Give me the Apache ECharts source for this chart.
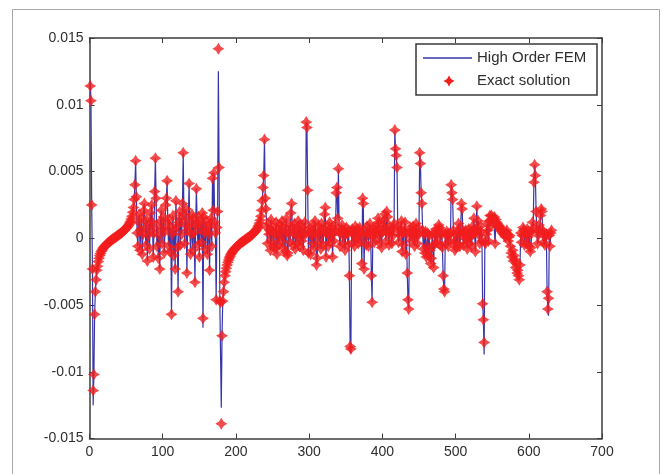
<!DOCTYPE html>
<html>
<head>
<meta charset="utf-8">
<script src="https://cdn.jsdelivr.net/npm/echarts@6/dist/echarts.min.js"></script>
<style>
  html, body { margin: 0; padding: 0; background: #ffffff; }
  #chart { width: 662px; height: 474px; }
</style>
</head>
<body>
<div id="chart"></div>
<script>
// Nodal error values, node numbers start at 1 and run consecutively.
const firstNode = 1;

// nodes 1-10: boundary oscillation
const edgeLeft = [1140e-5, 1030e-5, 250e-5, -230e-5, -1140e-5, -1020e-5, -570e-5, -400e-5, -310e-5, -240e-5];

// nodes 11-60: first smooth ramp
const rampA = [
  -210e-5, -175e-5, -150e-5, -130e-5, -115e-5, -100e-5, -90e-5, -80e-5, -72e-5, -65e-5,
  -58e-5, -52e-5, -46e-5, -41e-5, -36e-5, -31e-5, -26e-5, -22e-5, -18e-5, -14e-5,
  -10e-5, -6e-5, -2e-5, 2e-5, 6e-5, 10e-5, 14e-5, 18e-5, 22e-5, 26e-5,
  30e-5, 34e-5, 38e-5, 42e-5, 47e-5, 52e-5, 57e-5, 62e-5, 68e-5, 74e-5,
  80e-5, 87e-5, 95e-5, 104e-5, 115e-5, 128e-5, 145e-5, 165e-5, 195e-5, 230e-5
];

// nodes 61-184: first oscillating band
const bandA = [
  290e-5, 400e-5, 580e-5, 310e-5, 40e-5, -60e-5, 120e-5, 180e-5, -90e-5, 60e-5,
  150e-5, -120e-5, 30e-5, 210e-5, 260e-5, 80e-5, -50e-5, 140e-5, -170e-5, 20e-5,
  110e-5, -80e-5, 190e-5, 60e-5, 250e-5, 120e-5, -140e-5, 40e-5, 350e-5, 600e-5,
  300e-5, -60e-5, 90e-5, -150e-5, 20e-5, -230e-5, 130e-5, 210e-5, -40e-5, 70e-5,
  160e-5, -110e-5, 50e-5, 250e-5, 300e-5, 430e-5, 110e-5, -60e-5, 140e-5, -100e-5,
  80e-5, -570e-5, 30e-5, 170e-5, -130e-5, 60e-5, -230e-5, 280e-5, 90e-5, -70e-5,
  -400e-5, 120e-5, 200e-5, -50e-5, 150e-5, 30e-5, 260e-5, 640e-5, 180e-5, -40e-5,
  100e-5, 220e-5, -260e-5, 60e-5, 140e-5, 410e-5, 90e-5, -120e-5, 30e-5, 180e-5,
  -90e-5, 150e-5, 40e-5, -330e-5, 100e-5, 370e-5, 120e-5, -50e-5, 160e-5, -140e-5,
  70e-5, 110e-5, -30e-5, 190e-5, -600e-5, 160e-5, 40e-5, -80e-5, 130e-5, 60e-5,
  -120e-5, 90e-5, 30e-5, -240e-5, 110e-5, 150e-5, -60e-5, 450e-5, 210e-5, 490e-5,
  120e-5, 40e-5, -460e-5, 80e-5, 200e-5, 1420e-5, 530e-5, -470e-5, -480e-5, -1390e-5,
  -730e-5, -470e-5, -400e-5, -330e-5
];

// nodes 185-240: second smooth ramp
const rampB = [
  -280e-5, -250e-5, -225e-5, -200e-5, -180e-5, -162e-5, -147e-5, -134e-5, -122e-5, -112e-5,
  -103e-5, -95e-5, -88e-5, -81e-5, -75e-5, -69e-5, -63e-5, -58e-5, -53e-5, -48e-5,
  -43e-5, -38e-5, -34e-5, -30e-5, -26e-5, -22e-5, -18e-5, -14e-5, -10e-5, -6e-5,
  -2e-5, 2e-5, 6e-5, 10e-5, 14e-5, 18e-5, 22e-5, 27e-5, 32e-5, 37e-5,
  43e-5, 49e-5, 56e-5, 64e-5, 73e-5, 84e-5, 97e-5, 113e-5, 135e-5, 165e-5,
  210e-5, 280e-5, 380e-5, 470e-5, 740e-5, 300e-5
];

// nodes 241-631: second oscillating band
const bandB = [
  220e-5, 80e-5, -40e-5, 110e-5, 30e-5, 60e-5, -90e-5, 140e-5, -30e-5, 50e-5,
  90e-5, -60e-5, -80e-5, 40e-5, 120e-5, -120e-5, 10e-5, 70e-5, -50e-5, 100e-5,
  60e-5, -20e-5, 130e-5, -70e-5, 20e-5, 90e-5, -100e-5, 50e-5, 150e-5, -130e-5,
  -110e-5, 40e-5, 100e-5, -30e-5, 190e-5, 260e-5, 80e-5, -50e-5, 30e-5, 110e-5,
  -80e-5, 60e-5, 20e-5, -40e-5, 130e-5, 70e-5, -60e-5, 100e-5, 10e-5, -20e-5,
  80e-5, -90e-5, 40e-5, 120e-5, 30e-5, 870e-5, 830e-5, 360e-5, -110e-5, 50e-5,
  80e-5, -120e-5, 20e-5, 60e-5, -40e-5, 100e-5, -70e-5, 130e-5, 20e-5, -200e-5,
  -150e-5, 40e-5, 90e-5, -30e-5, 60e-5, -80e-5, 110e-5, 30e-5, -50e-5, 70e-5,
  180e-5, 230e-5, -140e-5, 40e-5, 90e-5, -60e-5, 20e-5, 120e-5, -30e-5, 50e-5,
  80e-5, -140e-5, 30e-5, -20e-5, 100e-5, 60e-5, 340e-5, 380e-5, 150e-5, 520e-5,
  50e-5, -60e-5, 30e-5, 70e-5, 100e-5, -40e-5, 60e-5, 20e-5, -90e-5, 40e-5,
  80e-5, 30e-5, -50e-5, 60e-5, -280e-5, -810e-5, -830e-5, 40e-5, 70e-5, -30e-5,
  50e-5, -60e-5, 90e-5, 20e-5, 0, 70e-5, -40e-5, 30e-5, 80e-5, -20e-5,
  40e-5, -190e-5, 300e-5, 260e-5, -230e-5, 60e-5, 20e-5, -50e-5, 90e-5, 30e-5,
  -60e-5, 40e-5, 110e-5, 20e-5, -280e-5, -480e-5, 50e-5, 80e-5, -30e-5, 60e-5,
  0, 90e-5, 40e-5, 150e-5, 120e-5, -40e-5, 60e-5, 30e-5, -70e-5, 100e-5,
  50e-5, 130e-5, 180e-5, 70e-5, -20e-5, 200e-5, 160e-5, 40e-5, -50e-5, 90e-5,
  30e-5, 60e-5, -40e-5, 80e-5, 20e-5, 110e-5, 810e-5, 670e-5, 620e-5, 530e-5,
  90e-5, -30e-5, 50e-5, 20e-5, 70e-5, 130e-5, -100e-5, 40e-5, -50e-5, 60e-5,
  120e-5, -120e-5, 30e-5, -260e-5, -460e-5, -530e-5, 40e-5, 80e-5, -20e-5, 60e-5,
  30e-5, 90e-5, 0, -60e-5, 50e-5, 110e-5, 20e-5, -40e-5, 80e-5, 30e-5,
  640e-5, 560e-5, 340e-5, 260e-5, 60e-5, -80e-5, 30e-5, -110e-5, 50e-5, -140e-5,
  -60e-5, 40e-5, -130e-5, 20e-5, -90e-5, -190e-5, -150e-5, 30e-5, -60e-5, -220e-5,
  40e-5, -40e-5, 70e-5, 20e-5, -30e-5, 60e-5, 100e-5, 80e-5, -50e-5, 20e-5,
  60e-5, -70e-5, -280e-5, -380e-5, -400e-5, 30e-5, -40e-5, 50e-5, 20e-5, -60e-5,
  40e-5, 30e-5, -20e-5, 400e-5, 340e-5, 290e-5, 60e-5, -30e-5, -90e-5, 20e-5,
  -70e-5, 50e-5, -40e-5, 110e-5, 30e-5, -60e-5, 80e-5, 260e-5, 220e-5, 40e-5,
  -50e-5, 30e-5, 0, 60e-5, -10e-5, -80e-5, 20e-5, 70e-5, -40e-5, 10e-5,
  50e-5, -60e-5, 90e-5, 30e-5, 150e-5, 40e-5, -100e-5, 70e-5, 240e-5, 60e-5,
  130e-5, 20e-5, -40e-5, 90e-5, 50e-5, -20e-5, -490e-5, -610e-5, -780e-5, -30e-5,
  -40e-5, 30e-5, 110e-5, 60e-5, -20e-5, 130e-5, 170e-5, 90e-5, 170e-5, 140e-5,
  120e-5, 150e-5, 160e-5, -40e-5, 140e-5, 120e-5, 110e-5, 100e-5, 80e-5, 90e-5,
  70e-5, 60e-5, 50e-5, 40e-5, 60e-5, 30e-5, 20e-5, 10e-5, 40e-5, 60e-5,
  30e-5, -20e-5, 10e-5, 20e-5, -60e-5, -110e-5, -140e-5, -90e-5, -170e-5, -130e-5,
  -160e-5, -220e-5, -190e-5, -260e-5, -240e-5, -280e-5, -310e-5, -200e-5, 40e-5, -30e-5,
  20e-5, 80e-5, 60e-5, -50e-5, 50e-5, 30e-5, -40e-5, 70e-5, 10e-5, -60e-5,
  40e-5, -100e-5, -70e-5, 50e-5, 120e-5, 80e-5, 420e-5, 550e-5, 470e-5, 200e-5,
  60e-5, -40e-5, 20e-5, 100e-5, 50e-5, 170e-5, 220e-5, 200e-5, 60e-5, -30e-5,
  40e-5, -50e-5, 10e-5, 30e-5, -400e-5, -530e-5, -450e-5, 20e-5, -60e-5, 40e-5,
  60e-5
];

// Nodes where the high order FEM result differs from the exact solution: [node, value]
const femDiffs = [
  [1, 1170e-5], [5, -1250e-5], [155, -670e-5], [176, 1250e-5],
  [180, -1270e-5], [357, -860e-5], [539, -870e-5], [627, -580e-5]
];

const xTicks = { min: 0, max: 700, step: 100 };
const yTicks = { min: -0.015, max: 0.015, step: 0.005 };
const seriesNames = ['High Order FEM', 'Exact solution'];

const exactValues = [].concat(edgeLeft, rampA, bandA, rampB, bandB);
const exactPoints = exactValues.map((v, i) => [firstNode + i, v]);
const femValues = exactValues.slice();
femDiffs.forEach(([node, v]) => { femValues[node - firstNode] = v; });
const femPoints = femValues.map((v, i) => [firstNode + i, v]);

const axisColor = '#3c3c3c';
const textColor = '#2e2e2e';
const fontFamily = 'Liberation Sans, Arial, sans-serif';
const lineColor = '#3636aa';
const markerColor = '#f21d1d';
// fat four-point star marker
const starPath = 'path://M5,0 L6.9,3.1 L10,5 L6.9,6.9 L5,10 L3.1,6.9 L0,5 L3.1,3.1 Z';

// four-point star for the legend key, centred on (cx, cy)
function starPoints(cx, cy, r, k) {
  return [[cx, cy - r], [cx + k, cy - k], [cx + r, cy], [cx + k, cy + k],
          [cx, cy + r], [cx - k, cy + k], [cx - r, cy], [cx - k, cy - k]];
}

function makeX(position, showLabels) {
  return {
    type: 'value', position: position,
    min: xTicks.min, max: xTicks.max, interval: xTicks.step,
    axisLine: { show: true, onZero: false, lineStyle: { color: axisColor, width: 1.5 } },
    axisTick: { show: true, inside: true, length: 5, lineStyle: { color: axisColor, width: 1 } },
    axisLabel: { show: showLabels, color: textColor, fontSize: 14, fontFamily: fontFamily, margin: 7 },
    splitLine: { show: false }
  };
}
function makeY(position, showLabels) {
  return {
    type: 'value', position: position,
    min: yTicks.min, max: yTicks.max, interval: yTicks.step,
    axisLine: { show: true, onZero: false, lineStyle: { color: axisColor, width: 1.5 } },
    axisTick: { show: true, inside: true, length: 5, lineStyle: { color: axisColor, width: 1 } },
    axisLabel: {
      show: showLabels, color: textColor, fontSize: 14, fontFamily: fontFamily, margin: 6,
      formatter: v => String(Number(v.toFixed(3)))
    },
    splitLine: { show: false }
  };
}

const chart = echarts.init(document.getElementById('chart'), null, { renderer: 'canvas' });
chart.setOption({
  animation: false,
  backgroundColor: '#ffffff',
  grid: { left: 89.5, right: 60, top: 38, bottom: 35.5 },
  xAxis: [makeX('bottom', true), makeX('top', false)],
  yAxis: [makeY('left', true), makeY('right', false)],
  series: [
    {
      name: seriesNames[0], type: 'line', data: femPoints,
      showSymbol: false, symbol: 'none',
      lineStyle: { color: lineColor, width: 1.2 }, z: 2
    },
    {
      name: seriesNames[1], type: 'scatter', data: exactPoints,
      symbol: starPath, symbolSize: 12,
      itemStyle: { color: markerColor }, z: 3
    }
  ],
  graphic: [
    // figure frame
    { type: 'rect', shape: { x: 12.5, y: 9.5, width: 647, height: 475 },
      style: { fill: 'none', stroke: '#a8a8a8', lineWidth: 1 }, silent: true, z: 0 },
    // legend box
    { type: 'rect', shape: { x: 416, y: 44, width: 181, height: 51 },
      style: { fill: '#ffffff', stroke: '#3a3a3a', lineWidth: 1.5 }, z: 10 },
    { type: 'line', shape: { x1: 423, y1: 58, x2: 472, y2: 58 },
      style: { stroke: lineColor, lineWidth: 1.5 }, z: 11 },
    { type: 'text', x: 477, y: 58,
      style: { text: seriesNames[0], fill: textColor, font: '15px ' + fontFamily, verticalAlign: 'middle' }, z: 11 },
    { type: 'polygon', shape: { points: starPoints(449, 81, 5.5, 2) },
      style: { fill: markerColor }, z: 11 },
    { type: 'text', x: 477, y: 81,
      style: { text: seriesNames[1], fill: textColor, font: '15px ' + fontFamily, verticalAlign: 'middle' }, z: 11 }
  ]
});
</script>
</body>
</html>
